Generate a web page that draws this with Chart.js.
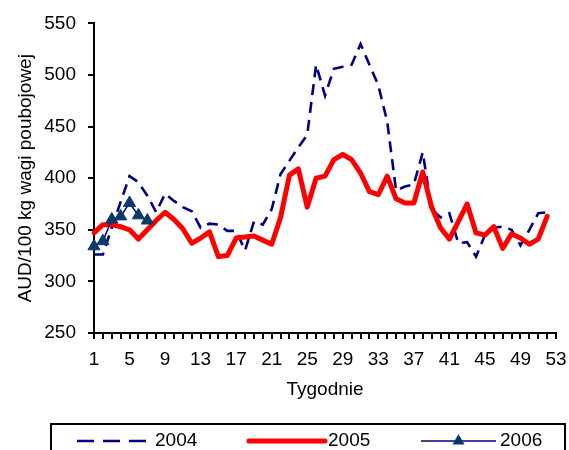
<!DOCTYPE html>
<html lang="pl">
<head>
<meta charset="utf-8"/>
<title>Ceny bydła - tygodniowo</title>
<script src="https://cdn.jsdelivr.net/npm/chart.js@4.4.0/dist/chart.umd.min.js"></script>
<style>
    body { margin: 0; background: #fff; }
    .conteiner { position: relative; width: 569px; height: 450px; }
</style>
</head>
<body>
<div class="conteiner"><canvas id="wykres"></canvas></div>
<script>
// tygodnie roku (oś X) i podpisywane tygodnie
const tygodnie = [1,2,3,4,5,6,7,8,9,10,11,12,13,14,15,16,17,18,19,20,21,22,23,24,25,26,27,
                  28,29,30,31,32,33,34,35,36,37,38,39,40,41,42,43,44,45,46,47,48,49,50,51,52,53];
const podpisyTygodni = [1,5,9,13,17,21,25,29,33,37,41,45,49,53];

// ceny AUD/100 kg wagi poubojowej
const ceny2004 = [326,326,352,377,402,396,383,367,385,378,372,368,352,356,355,349,349,330,358,355,
                  370,404,417,430,442,510,480,506,508,510,530,510,490,455,388,392,394,425,370,362,
                  366,337,338,324,345,352,353,350,335,350,366,367];
const ceny2005 = [347,355,355,353,350,341,350,359,367,360,351,337,342,348,324,325,342,343,344,340,
                  336,362,403,409,372,400,402,418,423,418,405,387,384,402,380,376,376,406,372,352,
                  341,358,375,347,345,353,332,346,342,336,341,363];
const ceny2006 = [334,339,360,363,376,364,359];

const lata = ['2004', '2005', '2006'];

Chart.defaults.font.family = "'Liberation Sans', Arial, sans-serif";
Chart.defaults.font.size = 19;
Chart.defaults.color = '#000';

// legenda w ramce pod wykresem (linia 2006 z trójkątem)
const legendaRamka = {
    id: 'legendaRamka',
    afterDraw(chart) {
        const ctx = chart.ctx;
        const ds = chart.data.datasets;
        const y = 441;
        ctx.save();
        ctx.strokeStyle = '#000';
        ctx.lineWidth = 2;
        ctx.strokeRect(51, 424, 514, 40);

        const wpisy = [
            { x1: 77, x2: 147, tx: 155 },
            { x1: 249, x2: 325, tx: 328 },
            { x1: 421, x2: 496, tx: 500 }
        ];
        wpisy.forEach((w, i) => {
            const d = ds[i];
            ctx.beginPath();
            ctx.strokeStyle = d.borderColor;
            ctx.lineWidth = d.borderWidth;
            ctx.lineCap = i === 1 ? 'round' : 'butt';
            ctx.setLineDash(i === 0 ? [17, 9] : []);
            ctx.moveTo(w.x1, y);
            ctx.lineTo(w.x2, y);
            ctx.stroke();
            ctx.setLineDash([]);
            if (d.pointStyle === 'triangle') {
                const r = d.pointRadius;
                const sx = (w.x1 + w.x2) / 2;
                ctx.beginPath();
                ctx.fillStyle = d.pointBackgroundColor;
                ctx.moveTo(sx, y - r);
                ctx.lineTo(sx + r * Math.sqrt(3) / 2, y + r / 2);
                ctx.lineTo(sx - r * Math.sqrt(3) / 2, y + r / 2);
                ctx.closePath();
                ctx.fill();
            }
            ctx.fillStyle = '#000';
            ctx.font = "19px 'Liberation Sans', Arial, sans-serif";
            ctx.textBaseline = 'middle';
            ctx.fillText(d.label, w.tx, y);
        });
        ctx.restore();
    }
};

const ctx = document.getElementById('wykres').getContext('2d');

new Chart(ctx, {
    type: 'line',
    data: {
        labels: tygodnie,
        datasets: [
            {
                label: lata[0],
                data: ceny2004,
                borderColor: '#000080',
                borderWidth: 2.6,
                borderDash: [11, 7],
                pointRadius: 0,
                tension: 0,
                fill: false,
                order: 2
            },
            {
                label: lata[1],
                data: ceny2005,
                borderColor: '#ff0000',
                borderWidth: 5,
                pointRadius: 0,
                tension: 0,
                fill: false,
                borderJoinStyle: 'round',
                borderCapStyle: 'round',
                order: 1
            },
            {
                label: lata[2],
                data: ceny2006,
                borderColor: '#000080',
                borderWidth: 1.5,
                pointStyle: 'triangle',
                pointRadius: 7,
                pointBackgroundColor: '#0b3a6a',
                pointBorderColor: '#0b3a6a',
                pointBorderWidth: 1,
                tension: 0,
                fill: false,
                order: 0
            }
        ]
    },
    options: {
        responsive: true,
        maintainAspectRatio: false,
        animation: false,
        layout: {
            padding: { left: 14, right: 13, top: 15, bottom: 49 }
        },
        plugins: {
            legend: { display: false },
            tooltip: { enabled: false }
        },
        scales: {
            x: {
                type: 'category',
                offset: false,
                border: { display: true, color: '#000', width: 2 },
                grid: {
                    display: true,
                    drawOnChartArea: false,
                    drawTicks: true,
                    tickLength: 6,
                    color: '#000',
                    lineWidth: 2
                },
                ticks: {
                    autoSkip: false,
                    maxRotation: 0,
                    minRotation: 0,
                    padding: 9,
                    callback: function(v, i) {
                        const t = tygodnie[i];
                        return podpisyTygodni.includes(t) ? String(t) : '';
                    }
                },
                title: {
                    display: true,
                    text: 'Tygodnie',
                    padding: { top: 6, bottom: 0 }
                },
                afterFit: function(scale) {
                    scale.height = 68;
                    // podpis "53" może wystawać poza obszar wykresu
                    scale.paddingRight = 0;
                }
            },
            y: {
                min: 250,
                max: 550,
                border: { display: true, color: '#000', width: 2 },
                grid: {
                    display: true,
                    drawOnChartArea: false,
                    drawTicks: true,
                    tickLength: 6,
                    color: '#000',
                    lineWidth: 2
                },
                ticks: {
                    stepSize: 50,
                    padding: 12
                },
                title: {
                    display: true,
                    text: 'AUD/100 kg wagi poubojowej',
                    padding: { top: 0, bottom: 0 }
                },
                afterFit: function(scale) {
                    scale.width = 80;
                }
            }
        }
    },
    plugins: [legendaRamka]
});
</script>
</body>
</html>
